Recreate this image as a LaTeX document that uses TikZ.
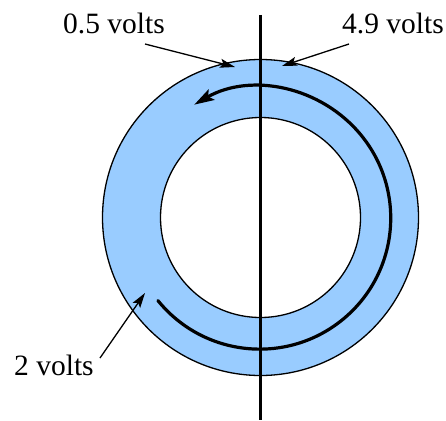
\documentclass[tikz,border=0pt]{standalone}
\usepackage{fontspec}
\setmainfont{Liberation Serif}
\usetikzlibrary{arrows.meta}
\definecolor{ringblue}{RGB}{153,204,255}
\tikzset{
  lbl/.style={inner sep=0pt, anchor=base west, font=\fontsize{29.5}{30}\selectfont},
  pointer/.style={line width=1.3pt, -{Stealth[length=15pt, width=9pt, inset=3pt]}},
  ring/.style={line width=1.3pt},
  current/.style={line width=3.2pt, line cap=round, -{Stealth[length=20pt, width=12pt, inset=4pt]}}
}
\begin{document}
\begin{tikzpicture}[x=1pt, y=-1pt]
\useasboundingbox (0,0) rectangle (446,420);
\coordinate (c) at (260.5,217.5);
% ring
\fill[ringblue, even odd rule] (c) circle[radius=158] (c) circle[radius=100];
\draw[ring] (c) circle[radius=158];
\draw[ring] (c) circle[radius=100];
% vertical wire
\coordinate (wtop) at (260.5,15);
\coordinate (wbot) at (260.5,420);
\draw[line width=2.6pt] (wtop) -- (wbot);
% current path
\draw[current] (c) ++(141:132) arc[start angle=141, end angle=-120, radius=131];
% labels
\node[lbl] (l05) at (63,34) {0.5 volts};
\node[lbl] (l49) at (342,34) {4.9 volts};
\node[lbl] (l2) at (14,375) {2 volts};
% pointers
\coordinate (s05) at (145,44);
\coordinate (t05) at (235,67);
\coordinate (s49) at (349,44);
\coordinate (t49) at (282,66);
\coordinate (s2) at (100,358);
\coordinate (t2) at (145,293);
\draw[pointer] (s05) -- (t05);
\draw[pointer] (s49) -- (t49);
\draw[pointer] (s2) -- (t2);
\end{tikzpicture}
\end{document}
